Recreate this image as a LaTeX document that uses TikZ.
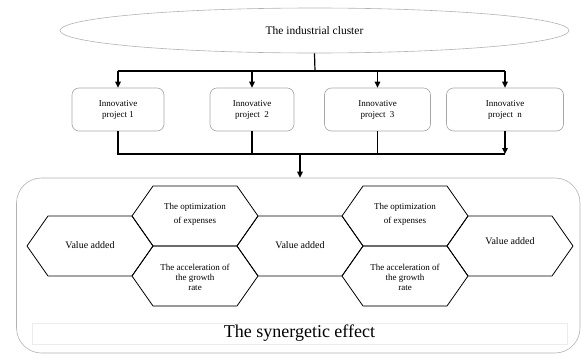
\documentclass[tikz,border=0pt]{standalone}
\usepackage{fontspec}
\setmainfont{Liberation Serif}
\usetikzlibrary{arrows.meta,shapes.geometric}
\begin{document}
\begin{tikzpicture}[x=1pt,y=-1pt,
  conn/.style={line width=1.2pt, black},
  arr/.style={conn,-{Triangle[length=6pt,width=5.5pt]}},
  projbox/.style={draw=gray!70, rounded corners=7pt, line width=0.6pt, minimum height=43pt, align=center, font=\fontsize{9}{11}\selectfont, inner sep=0pt},
  hexlabel/.style={align=center, font=\fontsize{9}{10}\selectfont, inner sep=0pt},
  valabel/.style={align=center, font=\fontsize{10}{12}\selectfont, inner sep=0pt},
  hexline/.style={line width=0.8pt, black, line join=miter},
  hexa/.pic={\draw[hexline] (-63,0) -- (-42,-30) -- (42,-30) -- (63,0) -- (42,30) -- (-42,30) -- cycle;}]
\useasboundingbox (0,0) rectangle (582,362);

% top ellipse
\node[draw=gray!60, line width=0.6pt, ellipse, minimum width=509pt, minimum height=45pt, inner sep=0pt, font=\fontsize{11.5}{13}\selectfont] (cluster) at (314.5,30.5) {The industrial cluster};

% project boxes
\node[projbox, minimum width=92pt] (p1) at (118,109.5) {Innovative\\project 1};
\node[projbox, minimum width=84pt] (p2) at (252,109.5) {Innovative\\project~ 2};
\node[projbox, minimum width=106pt] (p3) at (377.5,109.5) {Innovative\\project~ 3};
\node[projbox, minimum width=117pt] (p4) at (505,109.5) {Innovative\\project~ n};

% outer frame
\node[draw=gray!60, line width=0.6pt, rounded corners=25pt, minimum width=563.5pt, minimum height=175pt, inner sep=0pt] (outer) at (298.25,265.5) {};

% top connectors
\coordinate (top) at (315,71);
\draw[conn] (cluster.south) -- (top);
\draw[conn] (p1.north |- top) -- (p4.north |- top);
\foreach \p in {p1,p2,p3,p4} {\draw[arr] (\p.north |- top) -- (\p.north);}

% bottom connectors
\coordinate (bot) at (300,154);
\draw[conn] (p1.south) -- (p1.south |- bot) -- (p4.south |- bot);
\draw[conn] (p2.south) -- (p2.south |- bot);
\draw[conn] (p3.south) -- (p3.south |- bot);
\draw[arr] (p4.south) -- (p4.south |- bot);
\draw[arr] (bot) -- (bot |- outer.north);

% hexagons
\pic at (90,246) {hexa};
\pic at (195,216) {hexa};
\pic at (195,276) {hexa};
\pic at (300,246) {hexa};
\pic at (405,216) {hexa};
\pic at (405,276) {hexa};
\pic at (510,246) {hexa};
\draw[gray!80, line width=1.2pt] (153,306) -- (237,306) (363,306) -- (447,306);

\node[valabel] (va1) at (90,245) {Value added};
\node[hexlabel] (opt1) at (195,214) {The optimization\\[4pt]of expenses};
\node[hexlabel] (acc1) at (195,277) {The acceleration of\\the growth\\rate};
\node[valabel] (va2) at (300,245) {Value added};
\node[hexlabel] (opt2) at (405,214) {The optimization\\[4pt]of expenses};
\node[hexlabel] (acc2) at (405,277) {The acceleration of\\the growth\\rate};
\node[valabel] (va3) at (510,241) {Value added};

% synergetic effect label
\node[draw=gray!15, line width=0.6pt, minimum width=535pt, minimum height=21pt, inner sep=0pt, font=\fontsize{18}{20}\selectfont] (syn) at (299.5,333.5) {The synergetic effect};
\end{tikzpicture}
\end{document}
